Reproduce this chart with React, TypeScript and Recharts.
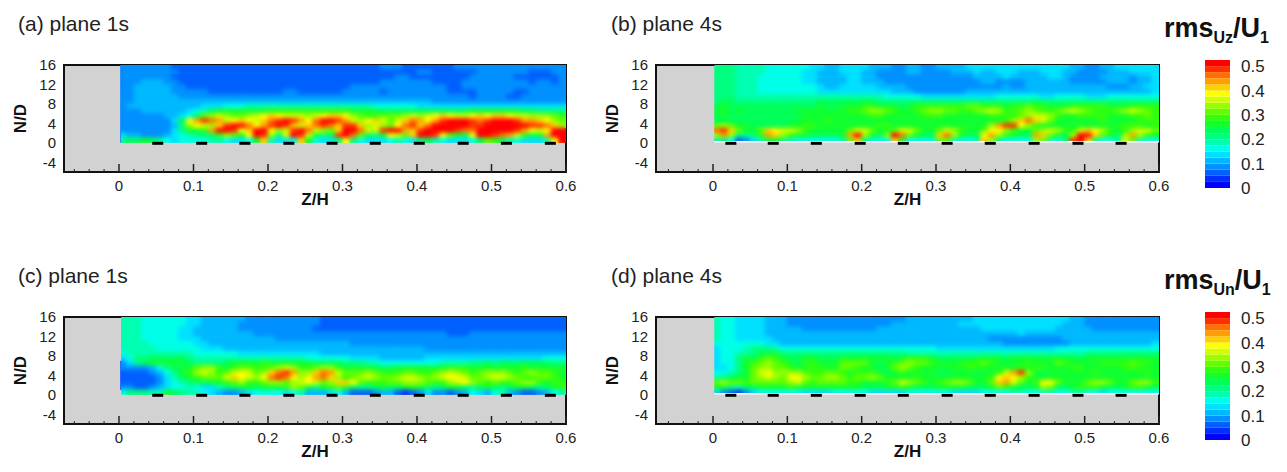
import { Bar, BarChart, CartesianGrid, ReferenceArea, ReferenceLine, Scatter, ScatterChart, XAxis, YAxis } from "recharts";

// one character per cell, base 36, each step is 0.025 of rms/U1
// rows run from N/D = 15.5 down to 0.5, columns from Z/H = 0.005 to 0.595
const rowN = [15.5, 14.5, 13.5, 12.5, 11.5, 10.5, 9.5, 8.5, 7.5, 6.5, 5.5, 4.5, 3.5, 2.5, 1.5, 0.5];

const uzPlane1 = [
  "3333333222 2222222222 2222222222 2222233322 2222233333 3333333333",
  "3333333322 2222222222 2222222222 2222222222 3322222233 3333322233",
  "3333333222 2222222222 2222222222 2222222332 2222222333 3332222223",
  "3334443322 2222222222 2222222222 2222233333 3322223333 3333323323",
  "3344444332 2222222222 2222222222 2333333333 3333223333 3333333333",
  "3344444333 3322222222 2233222222 3333323333 3333222233 3332233333",
  "3344444433 3333333333 3333333333 3333333333 3333333233 3322333333",
  "3344444444 4444444444 4444444444 4444444444 4433333333 3333333333",
  "3444444444 4555666777 7777777777 7777666666 5555555555 5555555555",
  "3334444445 679aaaaaaa bbbbbbbbbb baaaa99999 9999999aaa aaaa998888",
  "3333334456 9cdedccdef gfeeedefgg fdcbbcccde defgfeefgf ggfeedddcb",
  "333333359f hjihefgfeg ijkjhfikkj hedfgecegi hfhjkkkjij kkkjhhgfdc",
  "333333348d fedgjkkifh jkjgegijig jjgdedcfij gikkkkkjjk kkkkkjjigd",
  "333333358a abhkkjfgkk fdejkiedcg kkieejkkhg jkkkkjiikk kkkjhfefkk",
  "5443334567 889bdcafkj d8ekjea89j kic98afecg kkjfca9fkk jiheb9ahkk",
  "899a986566 66776556ag 7556ga6558 f865556765 897655569c b9765557fk",
];

const uzPlane4 = [
  "8887777666 6665544555 5444334433 4444555555 5555555544 3344555555",
  "8887777666 6655444555 4433334433 3344454455 5444555443 3334445555",
  "8887776666 6655444455 4433333333 3333344445 4444455433 3344443445",
  "8887776666 6655444455 4443333333 3333334433 3344444433 3334443445",
  "8887776666 6666544555 5544443333 3333333334 3344444444 4443334455",
  "8887776666 6666555555 5555444333 3333444444 4444444444 4444444445",
  "8887777777 7777777777 7776666655 5555555566 6666556666 5556666666",
  "8998888888 8888999999 9988888888 8888888888 8889888888 8888888888",
  "9a99999999 9999a99aaa bbaaa9abbb bbbbccbbba bbcbbaaabb bbbaaabbbb",
  "aa9a999999 9aaaaaaabb cddcbaabcd dccbbcdedb bcdcbbcded cbbbcdedcb",
  "9a99999999 99aaaaaaaa abbaaaaabb baaaaaabbb bcdeedbaab bbbaaabbcb",
  "9999999999 9aaaabaaaa aaaaaaaaaa aaaaaaaaab dgigecaaaa aabaaaabbb",
  "cdcaa99999 aabbaaaaaa aabbaaaaaa aaaaaaadhj jfdbaaaaaa aaaaabbbab",
  "ijgcaacgfe edbaaaaace ecaaceecaa cedbaacffd baacdedbbe gfdbabdeec",
  "dhd888bhgd baa9999ahk da9dkica99 gida99fhdb a99hgca9dk kgca9dhdba",
  "7862357aa8 76666667cg 8666ga6666 cc7667gd86 666dc769jk g8667ec766",
];

const unPlane1 = [
  "7776666665 5444444333 3333333222 2222222222 2222222222 2222222222",
  "7776666665 5444443333 3333333222 2222222222 2222222222 2222222222",
  "7776666655 4444443333 3333332222 2222222222 2222222222 2222222222",
  "7776666655 4444444433 3333333333 3333333333 3333222333 3333333333",
  "7776666655 5444444444 4333333333 3333333333 3333333333 3333333333",
  "7777666666 5544444444 4444444444 4333333333 3333333333 3333333333",
  "7777766666 6555444444 4444444444 4444444444 4333333333 3333333333",
  "6777777777 6666665555 5555555444 4444444444 4444444444 4444444444",
  "5688999998 7777777777 7777766666 6555544444 4555555555 5555555666",
  "3589aaaaa9 88889aaaab aaaaaa9999 8887766666 6667777889 8999999988",
  "3333468 99a cddbabccbb cdedbbcddb aaaa999aaa aaaabbbaaa aaaabaaaaa",
  "2222346 8ab dedbcefecd gijhddgihe cccdcbbbcc bbcdedcbcd ddcbcdccba",
  "2222235 79a bcccegfedf ijifdfhigd bcdedccdee dcdeffeccd eedcbbccba",
  "2222235678 99aabcdbbc ddcdefecdg gfcbbbccdd dcbbdefdcb cbbcddbabb",
  "3322345667 655789aa9a aabdca8abc b9889a99ab a989aa989a 989aa989ab",
  "688877a987 7654334566 6656744456 4222344212 3533234654 6743223467",
];

const unPlane4 = [
  "7665555444 3333333333 3333334444 4444455555 5555555544 3333333333",
  "7665555444 3333333333 3333444444 4445555555 5555555444 3333333333",
  "7665555444 4433333333 3344444444 4444445555 5555554444 4333333333",
  "7665555444 4444444444 4444444444 4444444444 4544444444 4444444444",
  "7665555544 4444444444 4444444444 4444444333 3333333444 4444444444",
  "6666666554 4444444444 4444444444 4444444443 3333333344 4444444445",
  "5666788876 6666666666 6666666666 5555555555 5555556666 6666666666",
  "56677899a8 8888888888 8888887777 7777777777 7777777777 8888888888",
  "5668a9bcba 99aa999aaa aaaa9abbba 99999aaaa9 aaaaaaaaa9 aaaaaaaaaa",
  "5668abcdcb a9bbaaaccc ca9abcdccb aaabbbcbaa aabaaacbaa aabbbbcbba",
  "5568acddcc baabbaaccb aa9acdcbaa aaaabbaaaa ababbaaabb aaaaabbbaa",
  "6678acefdd ddcbbccbab bba9abaaaa 99aaa9aabe hjda9aaaaa abaaaaaaba",
  "789aacdedc ffdccddcbc cdcaaaabaa aaaaaaabfg fdbaaaaaaa aaaaaaaaaa",
  "cdccbccccc decbccccbb aaabcedcba bcddcaacgh ecabffcaaa cddcaacddb",
  "aa8799aaaa baaaaaaaaa 999aaba999 aaaa999acb a99adc99ab bba99abba9",
  "5321356666 6655556666 6555556666 6655556666 7766776677 6656666666",
];

const jetStubsPlane1 = [0.052, 0.111, 0.169, 0.228, 0.286, 0.344, 0.403, 0.462, 0.52, 0.579];
const jetStubsPlane4 = [0.024, 0.081, 0.139, 0.198, 0.256, 0.315, 0.373, 0.432, 0.491, 0.549];

const bandColors = [
  "#0000ff", "#0030ff", "#0060ff", "#0090ff", "#00b8ff", "#00e0ff", "#00ffe8",
  "#00ffb0", "#00ff80", "#00ff58", "#10ff30", "#30ff10", "#60ff00", "#98ff00",
  "#d0ff00", "#ffff00", "#ffd000", "#ffa000", "#ff7000", "#ff3000", "#ff0000",
];
const barTicks = [0, 0.1, 0.2, 0.3, 0.4, 0.5];
const nTicks = [-4, 0, 4, 8, 12, 16];
const zTicks = [
  0, 0.02, 0.04, 0.06, 0.08, 0.1, 0.12, 0.14, 0.16, 0.18, 0.2, 0.22, 0.24, 0.26, 0.28, 0.3,
  0.32, 0.34, 0.36, 0.38, 0.4, 0.42, 0.44, 0.46, 0.48, 0.5, 0.52, 0.54, 0.56, 0.58, 0.6,
  -0.02, -0.04, -0.06,
];

const font = "'Liberation Sans', Arial, sans-serif";
const chartH = 180;
const margin = { top: 25, right: 24, bottom: 0, left: 24 };
const plotH = 107;

function toCells(rows: string[]) {
  const cells: { z: number; n: number; level: number }[] = [];
  rows.forEach((row, r) => {
    row.replace(/ /g, "").split("").forEach((ch, c) => {
      cells.push({ z: (c + 0.5) / 100, n: rowN[r], level: parseInt(ch, 36) });
    });
  });
  return cells;
}

function ZTick({ x, y, payload }: any) {
  const major = Math.abs(payload.value * 10 - Math.round(payload.value * 10)) < 1e-6;
  return (
    <g>
      <line x1={x} x2={x} y1={y} y2={y - (major ? 8 : 3)} stroke="#222" strokeWidth={major ? 1.5 : 1} />
      {major && payload.value >= 0 && (
        <text x={x} y={y + 19} textAnchor="middle" fontSize={15} fontFamily={font} fill="#222">
          {payload.value}
        </text>
      )}
    </g>
  );
}

function Panel({ id, title, rows, stubs, left, top, width, titleX, zMin, zStart, floor, edge }: any) {
  const cells = toCells(rows);
  const plotW = width - margin.left - margin.right - 40;
  const perZ = plotW / (0.6 - zMin);
  const perN = plotH / 22;
  const cellW = perZ * 0.01 + 0.6;
  const cellH = perN + 0.6;
  const cell = (p: any) => (
    <rect x={p.cx - cellW / 2} y={p.cy - cellH / 2} width={cellW} height={cellH} fill={bandColors[p.payload.level]} />
  );
  const stub = (p: any) => <rect x={p.cx - 5.5} y={p.cy - 1.5} width={11} height={3} fill="#000" />;
  // the clip keeps the smoothing inside the measured part of the plot
  const clipX = margin.left + 40 + (zStart - zMin) * perZ;
  const clipY = margin.top;
  const clipW = plotW - (zStart - zMin) * perZ;
  const clipH = (16 - floor) * perN;
  return (
    <div style={{ position: "absolute", left, top, width, height: chartH }}>
      <svg width={0} height={0} style={{ position: "absolute" }}>
        <defs>
          <clipPath id={`clip-${id}`}>
            <rect x={clipX} y={clipY} width={clipW} height={clipH} />
          </clipPath>
        </defs>
      </svg>
      <style>{`.base-${id}{clip-path:url(#clip-${id})}.soft-${id}{filter:blur(1.9px);clip-path:url(#clip-${id})}`}</style>
      <ScatterChart width={width} height={chartH} margin={margin}>
        <CartesianGrid horizontal={false} vertical={false} fill="#d2d2d2" stroke="none" />
        <XAxis
          type="number"
          dataKey="z"
          domain={[zMin, 0.6]}
          ticks={zTicks.filter((t) => t >= zMin)}
          allowDataOverflow
          height={48}
          tickSize={0}
          tickMargin={0}
          tickLine={false}
          axisLine={false}
          interval={0}
          tick={<ZTick />}
          label={{ value: "Z/H", position: "insideTop", offset: 21, style: { fontFamily: font, fontWeight: 700, fontSize: 17, fill: "#111" } }}
        />
        <YAxis
          type="number"
          dataKey="n"
          domain={[-6, 16]}
          ticks={nTicks}
          interval={0}
          allowDataOverflow
          width={40}
          tickSize={0}
          tickMargin={8}
          tickLine={false}
          axisLine={false}
          tick={{ fontFamily: font, fontSize: 15, fill: "#222" }}
          label={{ value: "N/D", angle: -90, position: "insideLeft", offset: -4, style: { fontFamily: font, fontWeight: 700, fontSize: 17, fill: "#111", textAnchor: "middle" } }}
        />
        <Scatter data={cells} shape={cell} className={`base-${id}`} isAnimationActive={false} />
        <Scatter data={cells} shape={cell} className={`soft-${id}`} isAnimationActive={false} />
        {floor > 0 && <ReferenceLine segment={[{ x: zStart, y: 0.25 }, { x: 0.6, y: 0.25 }]} stroke="#fff" strokeWidth={2} />}
        {floor > 0 && <ReferenceLine segment={[{ x: zStart, y: 0.65 }, { x: 0.4, y: 0.65 }]} stroke="#0050ff" strokeWidth={1.5} />}
        {edge && <ReferenceLine segment={[{ x: zStart, y: edge.from }, { x: zStart, y: edge.to }]} stroke={edge.color} strokeWidth={2} />}
        <Scatter data={stubs.map((z: number) => ({ z, n: -0.1 }))} shape={stub} isAnimationActive={false} />
        <ReferenceArea x1={zMin} x2={0.6} y1={-6} y2={16} fill="none" stroke="#111" strokeWidth={2} fillOpacity={0} />
      </ScatterChart>
      <div style={{ position: "absolute", left: titleX, top: title.top, fontFamily: font, fontSize: 21, color: "#222", whiteSpace: "nowrap" }}>
        {title.text}
      </div>
    </div>
  );
}

function ColorBar({ top }: { top: number }) {
  const row: Record<string, number> = { bar: 0 };
  bandColors.forEach((_, i) => (row[`b${i}`] = 0.025));
  return (
    <div style={{ position: "absolute", left: 1190, top }}>
      <BarChart width={90} height={150} data={[row]} margin={{ top: 10, right: 0, bottom: 12, left: 15 }} barCategoryGap={0}>
        <XAxis dataKey="bar" hide />
        <YAxis
          orientation="right"
          domain={[0, 0.525]}
          ticks={barTicks}
          interval={0}
          width={50}
          tickSize={0}
          tickMargin={11}
          tickLine={false}
          axisLine={false}
          tick={{ fontFamily: font, fontSize: 17, fill: "#222", textAnchor: "start" }}
        />
        {bandColors.map((c, i) => (
          <Bar key={c} dataKey={`b${i}`} stackId="bar" fill={c} isAnimationActive={false} />
        ))}
      </BarChart>
    </div>
  );
}

function BarTitle({ top, sub }: { top: number; sub: string }) {
  return (
    <div style={{ position: "absolute", left: 1164, top, fontFamily: font, fontWeight: 700, fontSize: 27, color: "#111", whiteSpace: "nowrap" }}>
      rms<sub style={{ fontSize: 16 }}>{sub}</sub>/U<sub style={{ fontSize: 16 }}>1</sub>
    </div>
  );
}

export default function App() {
  return (
    <div style={{ position: "absolute", left: 0, top: 0, width: 1287, height: 472, background: "#fff", overflow: "hidden" }}>
      <Panel id="a" title={{ text: "(a) plane 1s", top: -28 }} rows={uzPlane1} stubs={jetStubsPlane1} left={0} top={40} width={590} titleX={18} zMin={-0.0738} zStart={0.003} floor={0} edge={{ from: 0, to: 16, color: "#0080ff" }} />
      <Panel id="b" title={{ text: "(b) plane 4s", top: -28 }} rows={uzPlane4} stubs={jetStubsPlane4} left={592} top={40} width={591} titleX={19} zMin={-0.0767} zStart={0.002} floor={0.4} />
      <Panel id="c" title={{ text: "(c) plane 1s", top: -28 }} rows={unPlane1} stubs={jetStubsPlane1} left={0} top={292} width={590} titleX={18} zMin={-0.0738} zStart={0.003} floor={0} edge={{ from: 1, to: 7, color: "#0050ff" }} />
      <Panel id="d" title={{ text: "(d) plane 4s", top: -28 }} rows={unPlane4} stubs={jetStubsPlane4} left={592} top={292} width={591} titleX={19} zMin={-0.0767} zStart={0.002} floor={0.4} />
      <BarTitle top={13} sub="Uz" />
      <BarTitle top={265} sub="Un" />
      <ColorBar top={50} />
      <ColorBar top={302} />
    </div>
  );
}
